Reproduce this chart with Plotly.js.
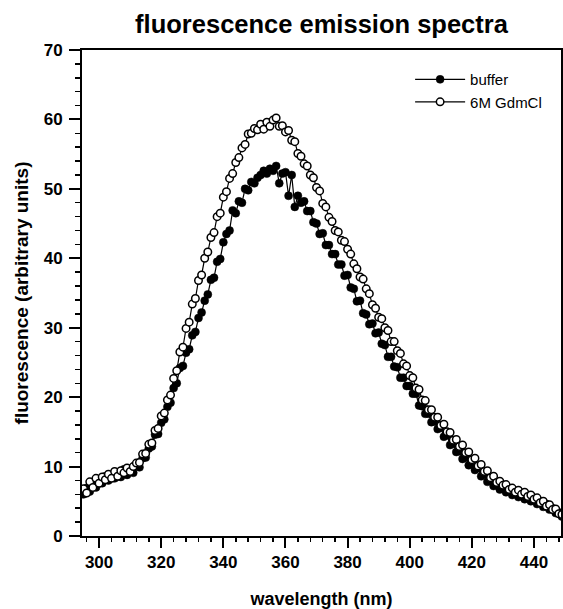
<!DOCTYPE html>
<html>
<head>
<meta charset="utf-8">
<script src="https://cdn.plot.ly/plotly-3.0.1.min.js"></script>
<style>html,body{margin:0;padding:0;background:#fff;}#chart{width:563px;height:609px;}</style>
</head>
<body>
<div id="chart"></div>
<script>
const wavelength = [
295,296,297,298,299,300,301,302,303,304,305,306,307,308,309,310,311,312,313,314,
315,316,317,318,319,320,321,322,323,324,325,326,327,328,329,330,331,332,333,334,
335,336,337,338,339,340,341,342,343,344,345,346,347,348,349,350,351,352,353,354,
355,356,357,358,359,360,361,362,363,364,365,366,367,368,369,370,371,372,373,374,
375,376,377,378,379,380,381,382,383,384,385,386,387,388,389,390,391,392,393,394,
395,396,397,398,399,400,401,402,403,404,405,406,407,408,409,410,411,412,413,414,
415,416,417,418,419,420,421,422,423,424,425,426,427,428,429,430,431,432,433,434,
435,436,437,438,439,440,441,442,443,444,445,446,447,448,449];

const bufferValues = [
6.0,6.9,6.4,7.5,7.0,8.2,7.6,8.6,8.0,8.8,8.3,9.0,8.5,9.6,8.8,9.7,9.1,10.3,9.9,11.2,
11.3,12.6,12.9,14.6,14.7,16.3,16.8,18.6,19.2,21.3,22.0,24.2,24.5,26.4,26.9,28.9,29.4,31.4,32.2,33.9,
34.8,36.9,37.2,39.5,39.9,42.3,43.5,44.0,46.9,46.5,48.2,48.0,50.0,49.8,51.0,50.8,51.6,52.0,52.6,52.2,
52.9,52.6,53.3,50.8,52.2,52.4,49.0,52.0,47.4,49.0,48.0,48.2,46.8,46.8,45.2,45.0,43.5,43.6,41.9,41.9,
40.6,40.6,39.1,39.1,37.5,37.6,35.8,35.6,33.8,33.9,32.1,31.9,30.5,30.6,29.2,29.3,27.7,27.5,25.8,25.8,
24.4,24.3,22.8,22.8,21.6,21.6,20.5,20.5,18.8,18.7,17.6,17.6,16.4,16.5,15.4,15.6,14.3,14.5,13.1,13.3,
12.1,12.2,11.1,11.3,10.2,10.5,9.5,9.8,8.6,8.9,7.8,8.1,7.2,7.6,6.7,7.2,6.3,6.8,5.9,6.4,
5.6,6.1,5.3,5.7,5.0,5.4,4.6,5.0,4.2,4.6,3.8,4.0,3.3,3.4,2.8];

const gdmclValues = [
6.8,6.2,7.8,7.0,8.3,7.6,8.5,8.1,8.9,8.3,9.3,8.6,9.4,9.1,9.8,9.3,10.0,10.5,10.6,11.8,
11.9,13.2,13.4,15.2,15.5,17.3,17.7,19.6,20.3,22.7,23.8,26.5,27.2,29.9,30.8,33.4,34.2,36.8,37.6,40.0,
40.9,43.0,43.7,46.0,46.5,48.8,49.6,51.5,52.2,53.8,54.5,55.9,56.4,57.9,58.0,58.7,58.5,59.3,58.6,59.6,
59.0,59.9,60.2,59.0,59.1,58.2,58.4,57.0,56.8,55.1,54.7,53.6,53.3,52.0,51.6,50.2,49.7,47.9,47.4,45.9,
45.3,44.0,43.8,42.6,42.4,41.3,40.6,39.2,38.5,37.3,37.0,35.6,34.9,33.3,32.8,31.5,31.3,30.0,29.6,28.0,
28.0,26.7,26.3,24.8,24.5,23.1,22.8,21.3,21.1,19.6,19.5,18.2,18.2,17.1,17.1,15.9,16.1,15.0,14.9,13.8,
13.9,12.9,13.1,12.0,12.1,11.0,11.2,10.1,10.3,9.3,9.4,8.4,8.6,7.7,7.9,7.3,7.4,6.7,6.9,6.3,
6.6,6.0,6.3,5.7,5.9,5.3,5.5,4.8,5.0,4.3,4.5,3.8,3.9,3.2,3.1];

const seriesNames = ['buffer', '6M GdmCl'];
const xTickVals = [300, 320, 340, 360, 380, 400, 420, 440];
const yTickVals = [0, 10, 20, 30, 40, 50, 60, 70];

const FONT = '"Liberation Sans", Arial, Helvetica, sans-serif';

const traces = [
  {
    x: wavelength, y: bufferValues, name: seriesNames[0],
    type: 'scatter', mode: 'lines+markers',
    line: {color: '#000', width: 1.2},
    marker: {symbol: 'circle', size: 8, color: '#000', line: {color: '#000', width: 0.5}}
  },
  {
    x: wavelength, y: gdmclValues, name: seriesNames[1],
    type: 'scatter', mode: 'lines+markers',
    line: {color: '#000', width: 1.2},
    marker: {symbol: 'circle', size: 7.5, color: '#fff', line: {color: '#000', width: 1.5}}
  }
];

const layout = {
  width: 563, height: 609,
  margin: {l: 82, r: 2, t: 50, b: 73, pad: 0},
  paper_bgcolor: '#fff', plot_bgcolor: '#fff',
  font: {family: FONT, color: '#000'},
  showlegend: true,
  title: {
    text: '<b>fluorescence emission spectra</b>',
    font: {family: FONT, size: 25.5, color: '#000'},
    x: 0.5, xref: 'paper', xanchor: 'center',
    y: 0.975, yref: 'container', yanchor: 'top'
  },
  xaxis: {
    range: [294.5, 448.7],
    tickmode: 'array', tickvals: xTickVals, ticktext: xTickVals.map(v => '<b>' + v + '</b>'),
    ticks: 'outside', ticklen: 10, tickwidth: 2, tickcolor: '#000',
    minor: {dtick: 4, tick0: 300, ticks: 'outside', ticklen: 4, tickwidth: 1.5, tickcolor: '#000', showgrid: false},
    showline: true, linewidth: 2, linecolor: '#000', mirror: true,
    showgrid: false, zeroline: false,
    tickfont: {family: FONT, size: 17, color: '#000'},
    title: {text: '<b>wavelength (nm)</b>', font: {family: FONT, size: 18, color: '#000'}, standoff: 24},
    automargin: false
  },
  yaxis: {
    range: [0, 70],
    tickmode: 'array', tickvals: yTickVals, ticktext: yTickVals.map(v => '<b>' + v + '</b>'),
    ticks: 'outside', ticklen: 11, tickwidth: 2, tickcolor: '#000',
    ticklabelstandoff: 3,
    minor: {dtick: 2, tick0: 0, ticks: 'outside', ticklen: 5, tickwidth: 1.5, tickcolor: '#000', showgrid: false},
    showline: true, linewidth: 2, linecolor: '#000', mirror: true,
    showgrid: false, zeroline: false,
    tickfont: {family: FONT, size: 17, color: '#000'},
    title: {text: '<b>fluorescence (arbitrary units)</b>', font: {family: FONT, size: 19, color: '#000'}, standoff: 10},
    automargin: false
  },
  legend: {
    x: 0.685, xanchor: 'left', xref: 'paper',
    y: 0.973, yanchor: 'top', yref: 'paper',
    bgcolor: 'rgba(0,0,0,0)', borderwidth: 0,
    font: {family: FONT, size: 15, color: '#000'},
    itemwidth: 50, tracegroupgap: 0
  }
};

Plotly.newPlot('chart', traces, layout, {displayModeBar: false, staticPlot: true});
</script>
</body>
</html>
